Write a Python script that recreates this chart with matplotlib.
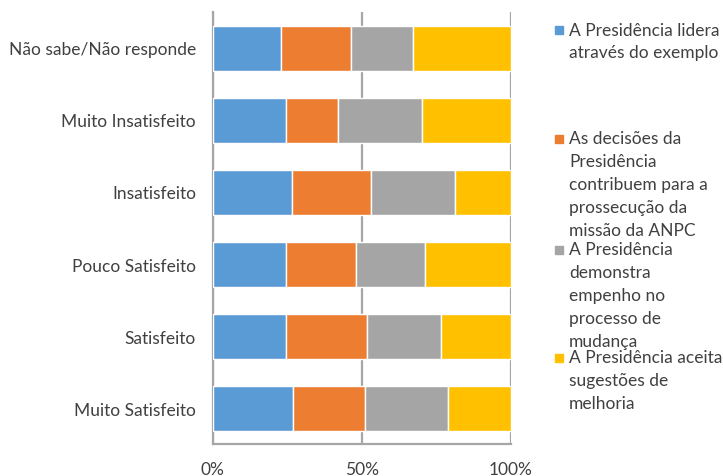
import numpy as np
import matplotlib
matplotlib.use("Agg")
from matplotlib import pyplot as plt
from matplotlib.patches import Rectangle

# categories bottom -> top
categories = ["Muito Satisfeito", "Satisfeito", "Pouco Satisfeito",
              "Insatisfeito", "Muito Insatisfeito", "Não sabe/Não responde"]

# percentages per series, same order as categories
lidera = [26.8, 24.5, 24.6, 26.6, 24.6, 22.8]
decisoes = [24.4, 27.4, 23.4, 26.6, 17.6, 23.6]
empenho = [27.8, 24.7, 23.2, 28.0, 28.0, 20.7]
aceita = [21.0, 23.4, 28.8, 18.8, 29.8, 32.9]

seriesNames = ["A Presidência lidera\natravés do exemplo",
               "As decisões da\nPresidência\ncontribuem para a\nprossecução da\nmissão da ANPC",
               "A Presidência\ndemonstra\nempenho no\nprocesso de\nmudança",
               "A Presidência aceita\nsugestões de\nmelhoria"]
colors = ["#5B9BD5", "#ED7D31", "#A5A5A5", "#FFC000"]
xTicks = [0, 50, 100]
xTickLabels = ["0%", "50%", "100%"]

plt.rcParams['font.family'] = ['Lato', 'DejaVu Sans']

fig = plt.figure(figsize=(7.23, 4.77), dpi=100)
ax = fig.add_axes([212.7/723, 1 - 445/477, 298/723, 432/477])

y = np.arange(len(categories))
left = np.zeros(len(categories))
for vals, col in zip([lidera, decisoes, empenho, aceita], colors):
    vals = np.array(vals)
    ax.barh(y, vals, left=left, height=0.625, color=col,
            edgecolor='white', linewidth=1.0, zorder=3)
    left = left + vals

ax.set_xlim(0, 100)
ax.set_ylim(-0.5, len(categories) - 0.5)
ax.set_xticks(xTicks)
ax.set_xticklabels(xTickLabels, fontsize=12.5, color='#404040')
ax.set_yticks(y)
ax.set_yticklabels(categories, fontsize=12.5, color='#404040')
ax.tick_params(axis='y', length=0, pad=12)
ax.tick_params(axis='x', length=0, pad=12)
ax.grid(axis='x', color='#A6A6A6', linewidth=1.6, zorder=0)
for s in ['top', 'right']:
    ax.spines[s].set_visible(False)
ax.spines['left'].set_color('#A6A6A6')
ax.spines['left'].set_linewidth(1.6)
ax.spines['bottom'].set_color('#A6A6A6')
ax.spines['bottom'].set_linewidth(1.6)

# legend entries placed like the original (top of first line, in px)
legendTops = [22.5, 131, 242, 350]
for name, col, top in zip(seriesNames, colors, legendTops):
    fig.text(569/723, 1 - top/477, name, fontsize=12.5, color='#404040',
             va='top', ha='left', linespacing=1.53)
    fig.patches.append(Rectangle((555/723, 1 - (top + 12.5)/477), 8/723, 8/477,
                                 transform=fig.transFigure, color=col))

fig.savefig("out.png", dpi=100)
